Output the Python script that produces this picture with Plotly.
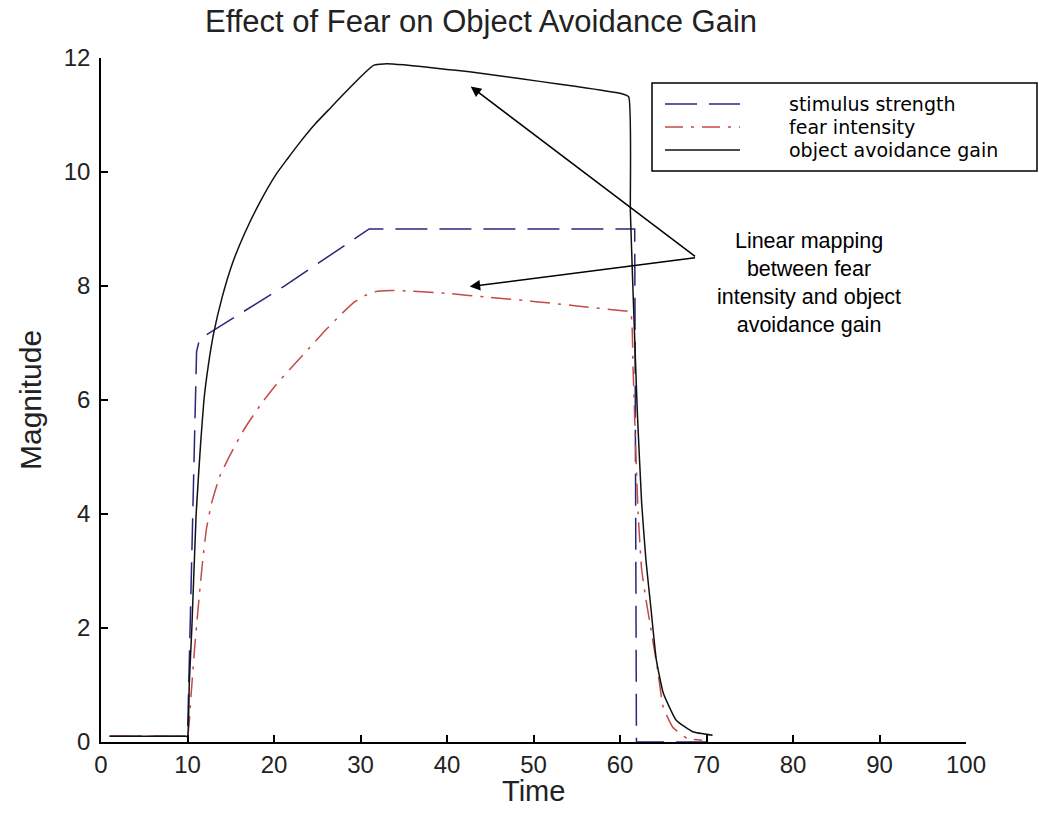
import plotly.graph_objects as go

# ---- data ----
time_stimulus = [1, 10, 10.3, 11.05, 11.4, 21.1, 31.0, 61.7, 61.9, 70.7]
stimulus = [0.1, 0.1, 2.0, 6.85, 7.07, 7.99, 9.0, 9.0, 0.0, 0.0]

time_fear = [1, 5, 9, 9.7, 10, 10.4, 10.8, 11.2, 11.7, 12.2, 12.8, 13.7, 14.9, 16.6, 18.6, 20.3,
             22.2, 24.0, 25.8, 27.6, 29.3, 30.5, 31.7, 33.5, 36, 40, 45, 50, 55, 60,
             61.2, 61.5, 61.8, 62.1, 62.5, 63.0, 63.6, 64.4, 65.0, 66.1, 67.8, 69.5]
fear = [0.1, 0.1, 0.1, 0.1, 0.1, 0.8, 1.6, 2.3, 3.1, 3.75, 4.2, 4.65, 5.03, 5.5, 5.95, 6.28,
        6.6, 6.9, 7.2, 7.48, 7.72, 7.83, 7.9, 7.92, 7.91, 7.87, 7.8, 7.73, 7.65, 7.57,
        7.55, 6.6, 5.2, 4.0, 3.03, 2.5, 1.96, 1.21, 0.61, 0.26, 0.06, 0.03]

time_gain = [1, 5, 9, 9.7, 10, 10.2, 10.5, 11.0, 11.5, 11.9, 12.4, 13.0, 14.0, 15.2, 16.6, 18.3,
             20.2, 21.5, 23.0, 24.8, 26.5, 28.0, 29.3, 30.5, 31.5, 33, 35, 37, 40, 42.6,
             46, 50.7, 55, 60, 61.0, 61.2, 61.6, 62.0, 62.5, 63.0, 63.6, 64.2, 65.0,
             66.5, 68.4, 70.7]
gain = [0.1, 0.1, 0.1, 0.1, 0.1, 1.0, 2.0, 4.0, 5.2, 6.0, 6.6, 7.15, 7.8, 8.4, 8.92, 9.45,
        9.95, 10.22, 10.52, 10.85, 11.12, 11.36, 11.56, 11.74, 11.87, 11.9, 11.88, 11.85, 11.8, 11.76,
        11.69, 11.59, 11.5, 11.38, 11.32, 9.3, 7.5, 5.8, 4.2, 3.19, 2.31, 1.44, 0.86,
        0.38, 0.18, 0.12]

series_names = ["stimulus strength", "fear intensity", "object avoidance gain"]
x_ticks = [0, 10, 20, 30, 40, 50, 60, 70, 80, 90, 100]
y_ticks = [0, 2, 4, 6, 8, 10, 12]

# annotation anchor points (data units)
arrow_tail = (68.85, 8.50)
arrow_heads = [(42.74, 11.50), (42.62, 7.99)]
note_text = "Linear mapping<br>between fear<br>intensity and object<br>avoidance gain"
note_pos = (81.9, 8.05)

# ---- styles ----
BLUE = "#26267e"
RED = "#c24a48"
BLACK = "#111111"
DASH_BLUE = "32px,12px"
DASH_RED = "20px,8px,3px,8px"

fig = go.Figure()
fig.add_trace(go.Scatter(x=time_stimulus, y=stimulus, mode="lines", name=series_names[0],
                         line=dict(color=BLUE, width=1.5, dash=DASH_BLUE), showlegend=False))
fig.add_trace(go.Scatter(x=time_fear, y=fear, mode="lines", name=series_names[1],
                         line=dict(color=RED, width=1.5, dash=DASH_RED, shape="spline", smoothing=0.4),
                         showlegend=False))
fig.add_trace(go.Scatter(x=time_gain, y=gain, mode="lines", name=series_names[2],
                         line=dict(color=BLACK, width=1.5, shape="spline", smoothing=0.4),
                         showlegend=False))

# ---- hand-drawn MATLAB-style legend box ----
L, R = 101, 966
T, B = 58, 742
def px(xp):
    return (xp - L) / (R - L)
def py(yp):
    return (B - yp) / (B - T)

shapes = [dict(type="rect", xref="paper", yref="paper",
               x0=px(652), x1=px(1037), y0=py(171), y1=py(83),
               line=dict(color="black", width=1.5), fillcolor="white", layer="above")]
legend_rows = [104, 127, 150]
legend_styles = [(BLUE, DASH_BLUE), (RED, "18px,8px,3px,8px"), (BLACK, "solid")]
annotations = []
for name, row, (col, dsh) in zip(series_names, legend_rows, legend_styles):
    shapes.append(dict(type="line", xref="paper", yref="paper",
                       x0=px(665), x1=px(740), y0=py(row), y1=py(row),
                       line=dict(color=col, width=1.5, dash=dsh), layer="above"))
    annotations.append(dict(text=name, xref="paper", yref="paper", x=px(787), y=py(row),
                            xanchor="left", yanchor="middle", showarrow=False,
                            font=dict(family="DejaVu Sans", size=19, color="black")))

for hx, hy in arrow_heads:
    annotations.append(dict(x=hx, y=hy, xref="x", yref="y", ax=arrow_tail[0], ay=arrow_tail[1],
                            axref="x", ayref="y", text="", showarrow=True,
                            arrowhead=2, arrowsize=1.4, arrowwidth=1.5, arrowcolor="black"))
annotations.append(dict(x=note_pos[0], y=note_pos[1], xref="x", yref="y", text=note_text,
                        showarrow=False, align="center", xanchor="center", yanchor="middle",
                        font=dict(family="Liberation Sans, Arial", size=21.5, color="black")))

# axis titles placed like the MATLAB figure
annotations.append(dict(text="Time", xref="paper", yref="paper", x=0.5, y=py(791),
                        xanchor="center", yanchor="middle", showarrow=False,
                        font=dict(size=29, color="#222222")))
annotations.append(dict(text="Magnitude", xref="paper", yref="paper", x=px(30), y=0.5,
                        xanchor="center", yanchor="middle", textangle=-90, showarrow=False,
                        font=dict(size=30, color="#222222")))

fig.update_layout(
    width=1039, height=813,
    margin=dict(l=L, r=1039 - R, t=T, b=813 - B, pad=0),
    paper_bgcolor="white", plot_bgcolor="white",
    font=dict(family="Liberation Sans, Arial", color="#222222"),
    title=dict(text="Effect of Fear on Object Avoidance Gain", x=481 / 1039, xref="container",
               xanchor="center", y=1 - 21 / 813, yref="container", yanchor="middle",
               font=dict(size=31, color="#222222", family="Liberation Sans, Arial")),
    xaxis=dict(range=[0, 100], tickvals=x_ticks, ticktext=[str(v) for v in x_ticks],
               showgrid=False, zeroline=False, showline=True, linecolor="black", linewidth=1.5,
               ticks="inside", ticklen=7, tickwidth=1.5, tickcolor="black",
               tickfont=dict(size=24), ticklabelstandoff=0),
    yaxis=dict(range=[0, 12], tickvals=y_ticks, ticktext=[str(v) for v in y_ticks],
               showgrid=False, zeroline=False, showline=True, linecolor="black", linewidth=1.5,
               ticks="inside", ticklen=7, tickwidth=1.5, tickcolor="black",
               tickfont=dict(size=24), ticklabelstandoff=4),
    shapes=shapes,
    annotations=annotations,
)

fig.write_html("out.html")
